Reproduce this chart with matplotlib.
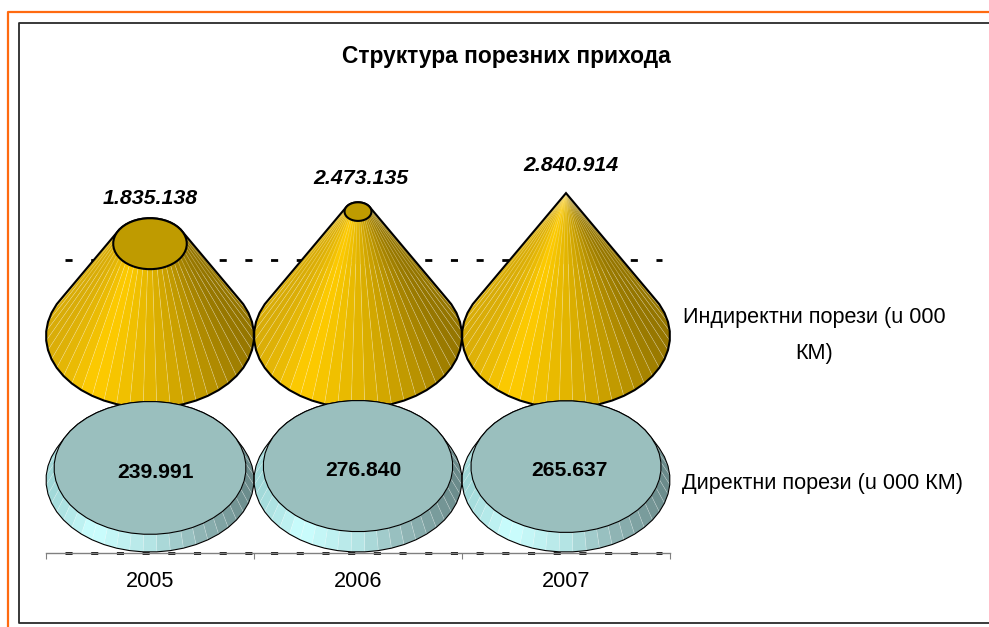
import numpy as np
import matplotlib
matplotlib.use("Agg")
import matplotlib.pyplot as plt
from matplotlib.collections import PolyCollection
from matplotlib.colors import LinearSegmentedColormap
from matplotlib.lines import Line2D

plt.rcParams['font.family'] = ['Liberation Sans', 'DejaVu Sans']

# podaci (u 000 KM)
years = ['2005', '2006', '2007']
direct_taxes = [239991, 276840, 265637]
indirect_taxes = [1835138, 2473135, 2840914]
direct_labels = ['239.991', '276.840', '265.637']
indirect_labels = ['1.835.138', '2.473.135', '2.840.914']
title = 'Структура порезних прихода'
legend_indirect = 'Индиректни порези (u 000\nКМ)'
legend_direct = 'Директни порези (u 000 КМ)'

W, H = 989, 627
PX_PER_UNIT = 0.0503 / 1000   # vertical pixels per KM
AX_L, AX_R, AX_B, AX_T = 46, 670, 553, 100
RADIUS = 0.5                  # base radius, in category units
B_PX = 72
DISC_BASE = 73 / PX_PER_UNIT  # disc base centre above the axis
CONE_BASE = 217 / PX_PER_UNIT # cone base centre above the axis
DISC_CONE = 3106551           # height of the cone that the disc is cut from
N = 48

cone_cmap = LinearSegmentedColormap.from_list('cone', [
    (0.0, '#d8ac08'), (0.22, '#ffcc00'), (0.5, '#e3b500'),
    (0.75, '#c29a00'), (1.0, '#947500')])
disc_cmap = LinearSegmentedColormap.from_list('disc', [
    (0.0, '#9fd6d6'), (0.22, '#ccffff'), (0.5, '#b4e4e4'),
    (0.75, '#8fb5b5'), (1.0, '#6a8a8a')])


def ring(cx, cy, scale):
    t = np.linspace(0, 2 * np.pi, N, endpoint=False) + np.pi / N
    x = cx + RADIUS * scale * np.cos(t)
    y = cy + B_PX * scale / PX_PER_UNIT * np.sin(t)
    return t, x, y


def hull(pts):
    # convex outline of the two rings
    pts = sorted(set(map(tuple, pts)))
    def half(points):
        out = []
        for p in points:
            while len(out) > 1:
                a, b = out[-2], out[-1]
                cross = (b[0]-a[0])*(p[1]-a[1]) - (b[1]-a[1])*(p[0]-a[0])
                if cross > 0:
                    break
                out.pop()
            out.append(p)
        return out
    lo = half(pts)
    up = half(pts[::-1])
    return np.array(lo[:-1] + up[:-1])


def frustum(ax, cx, y0, y1, top_scale, cmap, top_color, lw_out, lw_top, z):
    t, xb, yb = ring(cx, y0, 1.0)
    _, xt, yt = ring(cx, y1, top_scale)
    order = np.argsort(-np.sin(t))  # back first
    polys = []
    cols = []
    for i in order:
        j = (i + 1) % N
        polys.append([(xb[i], yb[i]), (xb[j], yb[j]), (xt[j], yt[j]), (xt[i], yt[i])])
        cols.append(cmap((np.cos(t[i] + np.pi / N) + 1) / 2))
    ax.add_collection(PolyCollection(polys, facecolors=cols, edgecolors=(1, 1, 1, 0.22),
                                     linewidths=0.5, zorder=z, clip_on=False))
    outline = hull(np.vstack([np.c_[xb, yb], np.c_[xt, yt]]))
    ax.fill(outline[:, 0], outline[:, 1], fill=False, edgecolor='black',
            linewidth=lw_out, zorder=z + 0.1, clip_on=False)
    if top_scale > 0.001:
        ax.fill(xt, yt, facecolor=top_color, edgecolor='black',
                linewidth=lw_top, zorder=z + 0.2, clip_on=False)


fig = plt.figure(figsize=(W / 100, H / 100), dpi=100)
ax = fig.add_axes([AX_L / W, 1 - AX_B / H, (AX_R - AX_L) / W, (AX_B - AX_T) / H])
ax.set_xlim(-0.5, 2.5)
ax.set_ylim(0, (AX_B - AX_T) / PX_PER_UNIT)
ax.patch.set_visible(False)
for s in ['top', 'left', 'right']:
    ax.spines[s].set_visible(False)
ax.spines['bottom'].set_color('#808080')
ax.spines['bottom'].set_linewidth(1.0)

x_pos = np.arange(len(years))
ax.set_yticks([])
ax.set_xticks(x_pos)
ax.set_xticklabels(years, fontsize=15.6, color='black')
ax.tick_params(axis='x', which='major', length=0, pad=13)
ax.set_xticks(np.arange(-0.5, 3, 1), minor=True)
ax.tick_params(axis='x', which='minor', length=4, width=0.8, color='#808080')

# isprekidane linije
grid_vals = [0, 293 / PX_PER_UNIT]
for v in grid_vals:
    ax.plot([-0.41, 2.46], [v, v], color='black', lw=2, zorder=1, clip_on=False,
            dashes=(2.55, 6.7), dash_capstyle='butt')

cone_max = max(indirect_taxes)
cone_label_dx = [0, 3, 5]
cone_label_dy = [20, 24, 28]
disc_label_dx = [5, 5, 3]

for i, cx in enumerate(x_pos):
    f = indirect_taxes[i] / cone_max
    top_y = CONE_BASE + indirect_taxes[i]
    frustum(ax, cx, CONE_BASE, top_y, 1 - f, cone_cmap, '#bf9b00', 1.5, 1.5, 3 + i)

    disc_top = DISC_BASE + direct_taxes[i]
    frustum(ax, cx, DISC_BASE, disc_top, 1 - direct_taxes[i] / DISC_CONE,
            disc_cmap, '#9abfbe', 0.8, 0.8, 7 + i)

    ax.annotate(direct_labels[i], (cx, disc_top), xytext=(disc_label_dx[i] * 0.72, -3),
                textcoords='offset points', ha='center', va='center', fontsize=15.2,
                fontweight='bold', color='black', zorder=12)
    cap_top = top_y + (1 - f) * B_PX / PX_PER_UNIT
    ax.annotate(indirect_labels[i], (cx, cap_top),
                xytext=(cone_label_dx[i] * 0.72, cone_label_dy[i] * 0.72), textcoords='offset points',
                ha='center', va='center', fontsize=15.4, fontweight='bold', style='italic',
                color='black', zorder=12)

fig.text(506 / W, 1 - 56 / H, title, ha='center', va='center', fontsize=16.4,
         fontweight='bold', color='black')
fig.text(814 / W, 1 - 335.5 / H, legend_indirect, ha='center', va='center', fontsize=15.6,
         color='black', linespacing=1.95)
fig.text(822 / W, 1 - 483 / H, legend_direct, ha='center', va='center', fontsize=15.6,
         color='black')

# okviri (desna strana je odsjecena)
fig.add_artist(Line2D([7.5 / W, 7.5 / W, 1], [0, 1 - 11.5 / H, 1 - 11.5 / H],
                      color='#ff6a10', lw=1.6))
fig.add_artist(Line2D([1, 18.5 / W, 18.5 / W, 1],
                      [1 - 22.5 / H, 1 - 22.5 / H, 1 - 622.5 / H, 1 - 622.5 / H],
                      color='#2a2a2a', lw=1.3))

fig.savefig('out.png', dpi=100)
